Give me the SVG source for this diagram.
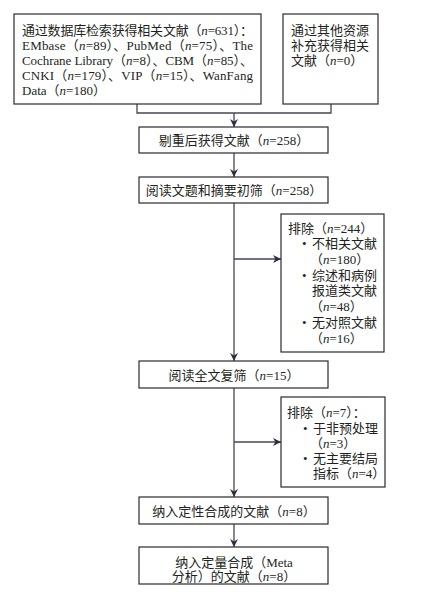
<svg xmlns="http://www.w3.org/2000/svg" width="430" height="596" viewBox="0 0 430 596">
<defs>
<style>
.box{fill:#fff;stroke:#2b2b2b;stroke-width:1.2}
.t{font-family:"Liberation Serif","Noto Sans CJK SC",serif;font-size:13px;fill:#231f20}
.c{text-anchor:middle}
.i{font-style:italic}
.ln{fill:none;stroke:#46455a;stroke-width:1.3}
</style>
<marker id="ah" viewBox="0 0 10 10" refX="10" refY="5" markerWidth="8" markerHeight="8" markerUnits="userSpaceOnUse" orient="auto">
<path d="M0,0 L10,5 L0,10 L3,5 Z" fill="#2e2d40"/>
</marker>
</defs>
<rect width="430" height="596" fill="#fff"/>
<g id="connectors">
<polyline class="ln" points="137,104 137,113 331,113 331,104"/>
<line class="ln" x1="234" y1="113" x2="234" y2="127" marker-end="url(#ah)"/>
<line class="ln" x1="234" y1="153" x2="234" y2="177" marker-end="url(#ah)"/>
<line class="ln" x1="234" y1="203" x2="234" y2="361" marker-end="url(#ah)"/>
<line class="ln" x1="234" y1="259" x2="281" y2="259" marker-end="url(#ah)"/>
<line class="ln" x1="234" y1="388" x2="234" y2="497" marker-end="url(#ah)"/>
<line class="ln" x1="234" y1="442" x2="281" y2="442" marker-end="url(#ah)"/>
<line class="ln" x1="234" y1="524" x2="234" y2="547" marker-end="url(#ah)"/>
</g>
<g id="db">
<rect class="box" x="14" y="14" width="247" height="90"/>
<text class="t" x="22" y="35" textLength="231" lengthAdjust="spacing">通过数据库检索获得相关文献（<tspan class="i">n</tspan>=631）：</text>
<text class="t" x="22" y="50" textLength="231" lengthAdjust="spacing">EMbase（<tspan class="i">n</tspan>=89）、PubMed（<tspan class="i">n</tspan>=75）、The</text>
<text class="t" x="22" y="65" textLength="231" lengthAdjust="spacing">Cochrane Library（<tspan class="i">n</tspan>=8）、CBM（<tspan class="i">n</tspan>=85）、</text>
<text class="t" x="22" y="80" textLength="231" lengthAdjust="spacing">CNKI（<tspan class="i">n</tspan>=179）、VIP（<tspan class="i">n</tspan>=15）、WanFang</text>
<text class="t" x="22" y="95">Data（<tspan class="i">n</tspan>=180）</text>
</g>
<g id="other">
<rect class="box" x="283" y="14" width="95" height="90"/>
<text class="t" x="291" y="35">通过其他资源</text>
<text class="t" x="291" y="50">补充获得相关</text>
<text class="t" x="291" y="65">文献（<tspan class="i">n</tspan>=0）</text>
</g>
<g id="dedup">
<rect class="box" x="139" y="127" width="189" height="26"/>
<text class="t c" x="234" y="145">剔重后获得文献（<tspan class="i">n</tspan>=258）</text>
</g>
<g id="screen1">
<rect class="box" x="139" y="177" width="189" height="26"/>
<text class="t c" x="234" y="195">阅读文题和摘要初筛（<tspan class="i">n</tspan>=258）</text>
</g>
<g id="excl1">
<rect class="box" x="281" y="214" width="103" height="138"/>
<text class="t" x="288" y="233">排除（<tspan class="i">n</tspan>=244）</text>
<text class="t" x="302" y="248">•</text>
<text class="t" x="312" y="248">不相关文献</text>
<text class="t" x="310" y="264">（<tspan class="i">n</tspan>=180）</text>
<text class="t" x="302" y="280">•</text>
<text class="t" x="312" y="280">综述和病例</text>
<text class="t" x="312" y="295">报道类文献</text>
<text class="t" x="310" y="311">（<tspan class="i">n</tspan>=48）</text>
<text class="t" x="302" y="327">•</text>
<text class="t" x="312" y="327">无对照文献</text>
<text class="t" x="310" y="343">（<tspan class="i">n</tspan>=16）</text>
</g>
<g id="screen2">
<rect class="box" x="139" y="361" width="189" height="27"/>
<text class="t c" x="234" y="380">阅读全文复筛（<tspan class="i">n</tspan>=15）</text>
</g>
<g id="excl2">
<rect class="box" x="281" y="397" width="104" height="90"/>
<text class="t" x="287" y="417">排除（<tspan class="i">n</tspan>=7）：</text>
<text class="t" x="303" y="433">•</text>
<text class="t" x="313" y="433">于非预处理</text>
<text class="t" x="310" y="448">（<tspan class="i">n</tspan>=3）</text>
<text class="t" x="303" y="463">•</text>
<text class="t" x="313" y="463">无主要结局</text>
<text class="t" x="313" y="478">指标（<tspan class="i">n</tspan>=4）</text>
</g>
<g id="qual">
<rect class="box" x="139" y="497" width="189" height="27"/>
<text class="t c" x="234" y="516">纳入定性合成的文献（<tspan class="i">n</tspan>=8）</text>
</g>
<g id="quant">
<rect class="box" x="139" y="547" width="189" height="37"/>
<text class="t c" x="234" y="567">纳入定量合成（Meta</text>
<text class="t c" x="234" y="581">分析）的文献（<tspan class="i">n</tspan>=8）</text>
</g>
</svg>
